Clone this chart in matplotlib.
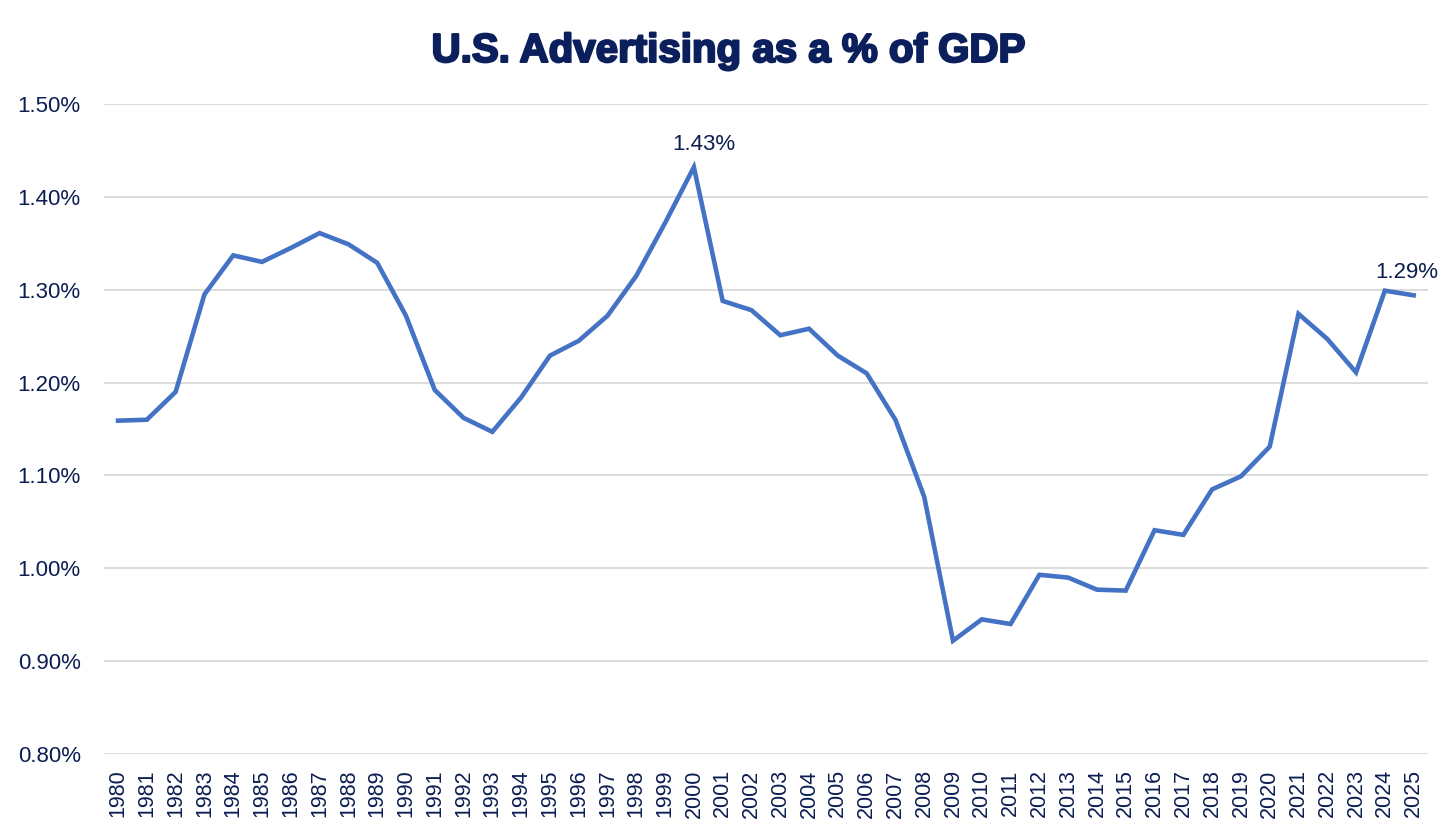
import matplotlib
matplotlib.use("Agg")
import matplotlib.pyplot as plt
import matplotlib.patheffects as pe
from matplotlib.ticker import FuncFormatter

plt.rcParams["font.family"] = ["Liberation Sans", "DejaVu Sans"]

# ---- Dados -----------------------------------------------------------------
anos = list(range(1980, 2026))
pct_pib = [
    1.159, 1.160, 1.190, 1.295, 1.337, 1.330, 1.345, 1.361, 1.349, 1.329,
    1.272, 1.192, 1.162, 1.147, 1.184, 1.229, 1.245, 1.272, 1.315, 1.372,
    1.432, 1.288, 1.278, 1.251, 1.258, 1.229, 1.210, 1.160, 1.077, 0.922,
    0.945, 0.940, 0.993, 0.990, 0.977, 0.976, 1.041, 1.036, 1.085, 1.099,
    1.131, 1.274, 1.247, 1.211, 1.299, 1.294,
]
rotulos = {2000: ("1.43%", 7), 2025: ("1.29%", -5)}

AZUL = "#4472C4"
TEXTO = "#0B1D51"
TITULO = "#0A1F5C"

fig = plt.figure(figsize=(14.56, 8.39), dpi=100)
ax = fig.add_axes([0.0712, 0.1013, 0.9096, 0.7747])

x = list(range(len(anos)))
ax.plot(x, pct_pib, color=AZUL, lw=3.3, solid_joinstyle="miter", zorder=3)

for ano, (txt, dx) in rotulos.items():
    i = anos.index(ano)
    ax.annotate(txt, (i, pct_pib[i]), xytext=(dx, 9), textcoords="offset points",
                ha="center", va="bottom", fontsize=16, color=TEXTO)

ax.set_xlim(-0.5, len(anos) - 0.5)
ax.set_ylim(0.80, 1.50)
ax.set_yticks([0.80 + 0.1 * k for k in range(8)])
ax.yaxis.set_major_formatter(FuncFormatter(lambda v, _: f"{v:.2f}%"))
ax.set_xticks(x)
ax.set_xticklabels([str(a) for a in anos], rotation=90)

ax.grid(axis="y", color="#D9D9D9", lw=1.3)
ax.set_axisbelow(True)
for s in ax.spines.values():
    s.set_visible(False)
ax.tick_params(axis="both", length=0, labelsize=16, colors=TEXTO)
ax.tick_params(axis="x", labelsize=15.5, pad=11)
ax.tick_params(axis="y", pad=16.5)

titulo = fig.suptitle("U.S. Advertising as a % of GDP", x=0.5, y=0.962,
                      fontsize=29, fontweight="bold", color=TITULO)
titulo.set_path_effects([pe.withStroke(linewidth=1.6, foreground=TITULO)])

fig.savefig("out.png", dpi=100)
